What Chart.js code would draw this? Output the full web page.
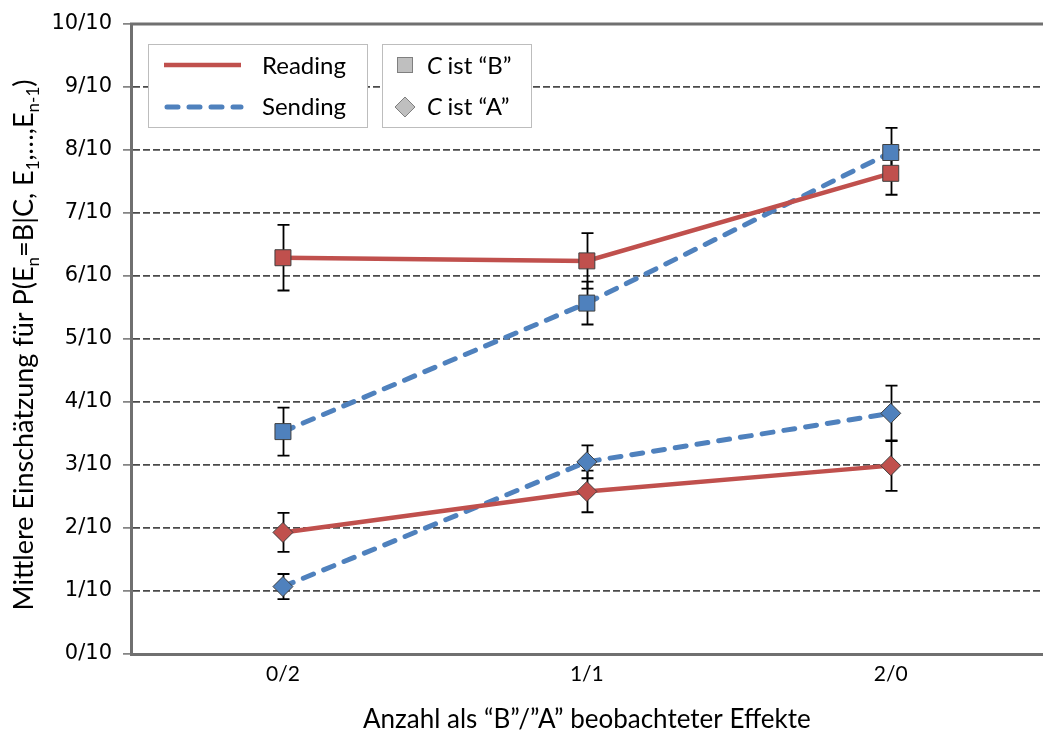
<!DOCTYPE html>
<html>
<head>
<meta charset="utf-8">
<script src="https://cdn.jsdelivr.net/npm/chart.js@4.4.1/dist/chart.umd.min.js"></script>
<style>
    html, body { margin: 0; padding: 0; background: #fff; overflow: hidden; }
    .frame { width: 1043px; height: 735px; overflow: hidden; }
    .chart-box { width: 1055px; height: 735px; }
</style>
</head>
<body>
<div class="frame"><div class="chart-box"><canvas id="effChart"></canvas></div></div>
<script>
const categories = ["0/2", "1/1", "2/0"];
const yTickValues = [0, 0.1, 0.2, 0.3, 0.4, 0.5, 0.6, 0.7, 0.8, 0.9, 1];
const yTickLabels = ["0/10", "1/10", "2/10", "3/10", "4/10", "5/10", "6/10", "7/10", "8/10", "9/10", "10/10"];

// Mittelwerte
const readingB = [0.629, 0.624, 0.763];
const sendingB = [0.353, 0.557, 0.796];
const readingA = [0.193, 0.258, 0.299];
const sendingA = [0.107, 0.305, 0.382];

// Fehlerbalken (+/-)
const readingBErr = [0.052, 0.044, 0.034];
const sendingBErr = [0.038, 0.034, 0.039];
const readingAErr = [0.031, 0.033, 0.040];
const sendingAErr = [0.020, 0.026, 0.044];

const RED = "#C0504D";
const BLUE = "#4F81BD";
const MARK_BORDER = "#3f3f3f";
const TEXT_FONT = "Lato, 'Open Sans', sans-serif";

function makeSet(label, data, err, color, dashed, pointStyle, radius) {
    return {
        label: label,
        data: data,
        err: err,
        borderColor: color,
        backgroundColor: color,
        borderWidth: dashed ? 5 : 4.5,
        borderDash: dashed ? [11, 11] : [],
        borderCapStyle: dashed ? "round" : "butt",
        pointStyle: pointStyle,
        pointRadius: radius,
        pointHoverRadius: radius,
        pointBackgroundColor: color,
        pointBorderColor: MARK_BORDER,
        pointBorderWidth: 1,
        tension: 0,
        fill: false,
    };
}

const errorBars = {
    id: "errorBars",
    beforeDatasetsDraw(chart) {
        const ctx = chart.ctx;
        const y = chart.scales.y;
        ctx.save();
        ctx.strokeStyle = "#000";
        ctx.lineWidth = 1.8;
        chart.data.datasets.forEach((ds, i) => {
            const meta = chart.getDatasetMeta(i);
            meta.data.forEach((pt, j) => {
                const top = y.getPixelForValue(ds.data[j] + ds.err[j]);
                const bot = y.getPixelForValue(ds.data[j] - ds.err[j]);
                const x = Math.round(pt.x) + 0.5;
                ctx.beginPath();
                ctx.moveTo(x, top);
                ctx.lineTo(x, bot);
                ctx.moveTo(x - 6, top);
                ctx.lineTo(x + 6, top);
                ctx.moveTo(x - 6, bot);
                ctx.lineTo(x + 6, bot);
                ctx.stroke();
            });
        });
        ctx.restore();
    },
};

const decorations = {
    id: "decorations",
    beforeDatasetsDraw(chart) {
        const ctx = chart.ctx;
        const a = chart.chartArea;
        ctx.save();
        ctx.strokeStyle = "#707070";
        ctx.lineWidth = 3;
        ctx.beginPath();
        ctx.moveTo(a.left - 1, a.top);
        ctx.lineTo(a.right + 2, a.top);
        ctx.stroke();
        ctx.restore();
    },
    afterDraw(chart) {
        const ctx = chart.ctx;
        ctx.save();

        // y axis title with subscripts
        const parts = [
            ["Mittlere Einschätzung für P(E", false],
            ["n", true],
            ["=B|C, E", false],
            ["1", true],
            [",…,E", false],
            ["n-1", true],
            [")", false],
        ];
        const big = "27px " + TEXT_FONT;
        const small = "17px " + TEXT_FONT;
        let total = 0;
        parts.forEach((p) => {
            ctx.font = p[1] ? small : big;
            total += ctx.measureText(p[0]).width;
        });
        ctx.translate(33, 345);
        ctx.rotate(-Math.PI / 2);
        ctx.fillStyle = "#000";
        ctx.textBaseline = "alphabetic";
        let x = -total / 2;
        parts.forEach((p) => {
            ctx.font = p[1] ? small : big;
            ctx.fillText(p[0], x, p[1] ? 6 : 0);
            x += ctx.measureText(p[0]).width;
        });
        ctx.setTransform(1, 0, 0, 1, 0, 0);

        // legend boxes
        ctx.fillStyle = "#fff";
        ctx.strokeStyle = "#bdbdbd";
        ctx.lineWidth = 1;
        ctx.fillRect(148, 44, 219, 83);
        ctx.strokeRect(148.5, 44.5, 219, 83);
        ctx.fillRect(382, 44, 149, 83);
        ctx.strokeRect(382.5, 44.5, 149, 83);

        ctx.lineWidth = 4.5;
        ctx.strokeStyle = RED;
        ctx.beginPath();
        ctx.moveTo(164, 65);
        ctx.lineTo(241, 65);
        ctx.stroke();
        ctx.strokeStyle = BLUE;
        ctx.lineWidth = 5;
        ctx.lineCap = "round";
        ctx.setLineDash([11, 11]);
        ctx.beginPath();
        ctx.moveTo(167, 107);
        ctx.lineTo(241, 107);
        ctx.stroke();
        ctx.setLineDash([]);
        ctx.lineCap = "butt";

        ctx.font = "24px " + TEXT_FONT;
        ctx.fillStyle = "#000";
        ctx.textBaseline = "middle";
        ctx.fillText("Reading", 262, 66);
        ctx.fillText("Sending", 262, 107);

        ctx.fillStyle = "#bfbfbf";
        ctx.strokeStyle = "#7f7f7f";
        ctx.lineWidth = 1;
        ctx.fillRect(397, 57, 16, 16);
        ctx.strokeRect(397.5, 57.5, 15, 15);
        ctx.beginPath();
        ctx.moveTo(395, 107);
        ctx.lineTo(405, 97);
        ctx.lineTo(415, 107);
        ctx.lineTo(405, 117);
        ctx.closePath();
        ctx.fill();
        ctx.stroke();

        ctx.fillStyle = "#000";
        ctx.font = "italic 24px " + TEXT_FONT;
        ctx.fillText("C", 427, 66);
        const cw = ctx.measureText("C ").width;
        ctx.font = "24px " + TEXT_FONT;
        ctx.fillText("ist “B”", 427 + cw, 66);
        ctx.font = "italic 24px " + TEXT_FONT;
        ctx.fillText("C", 427, 107);
        ctx.font = "24px " + TEXT_FONT;
        ctx.fillText("ist “A”", 427 + cw, 107);

        ctx.restore();
    },
};

new Chart(document.querySelector("#effChart"), {
    type: "line",
    data: {
        labels: categories,
        datasets: [
            makeSet("Reading C ist B", readingB, readingBErr, RED, false, "rect", 11.3),
            makeSet("Sending C ist B", sendingB, sendingBErr, BLUE, true, "rect", 11.3),
            makeSet("Reading C ist A", readingA, readingAErr, RED, false, "rectRot", 10),
            makeSet("Sending C ist A", sendingA, sendingAErr, BLUE, true, "rectRot", 10),
        ],
    },
    options: {
        responsive: true,
        maintainAspectRatio: false,
        animation: false,
        layout: { padding: { top: 24, right: 0, bottom: 0, left: 0 } },
        plugins: {
            legend: { display: false },
            tooltip: { enabled: false },
        },
        scales: {
            x: {
                type: "category",
                offset: true,
                afterFit(scale) {
                    scale.height = 81;
                },
                grid: { display: false, drawTicks: false },
                border: { display: true, color: "#707070", width: 3 },
                ticks: {
                    padding: 8,
                    color: "#000",
                    font: { family: TEXT_FONT, size: 21 },
                },
                title: {
                    display: true,
                    text: "Anzahl als “B”/”A” beobachteter Effekte",
                    color: "#000",
                    font: { family: TEXT_FONT, size: 26 },
                    padding: { top: 0, bottom: 0 },
                },
            },
            y: {
                min: 0,
                max: 1,
                afterFit(scale) {
                    scale.width = 131;
                },
                afterBuildTicks(scale) {
                    scale.ticks = yTickValues.map((v) => ({ value: v }));
                },
                grid: {
                    color: (c) => (c.tick && c.tick.value === 1 ? "rgba(0,0,0,0)" : "#4a4a4a"),
                    lineWidth: 1.8,
                    tickColor: "#707070",
                    tickLength: 8,
                    tickWidth: 1.5,
                },
                border: { display: true, color: "#707070", width: 3, dash: [7, 3] },
                ticks: {
                    padding: 11,
                    color: "#000",
                    font: { family: "'DejaVu Sans', Verdana, sans-serif", size: 21 },
                    callback: (v, i) => yTickLabels[i],
                },
            },
        },
    },
    plugins: [errorBars, decorations],
});
</script>
</body>
</html>
